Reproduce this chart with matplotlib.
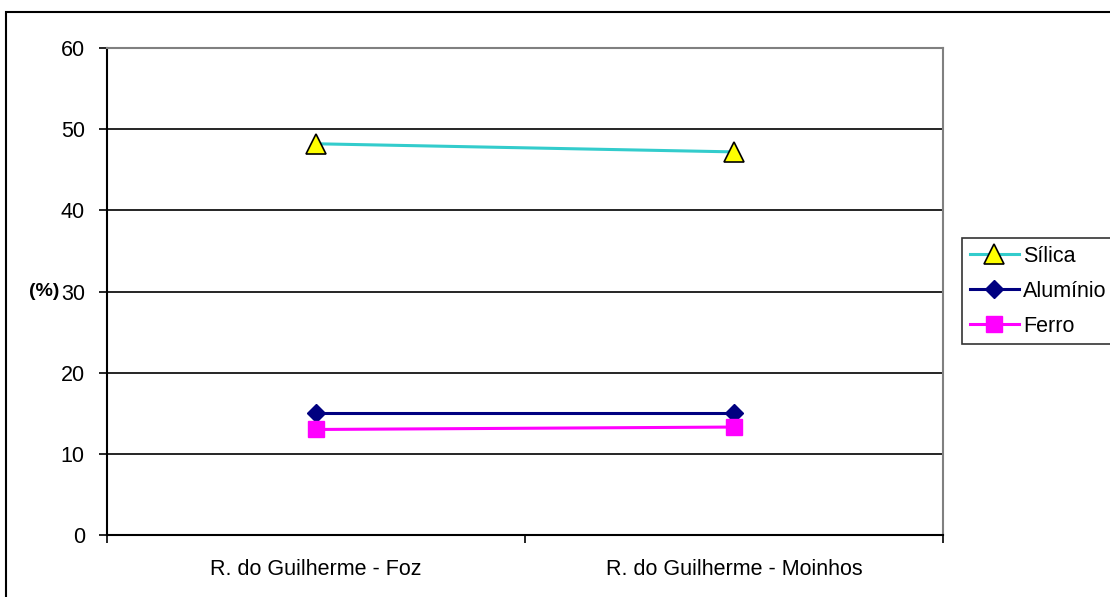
import matplotlib
matplotlib.use("Agg")
import matplotlib.pyplot as plt
from matplotlib.patches import Rectangle

plt.rcParams["font.family"] = ["Liberation Sans", "DejaVu Sans"]

categories = ["R. do Guilherme - Foz", "R. do Guilherme - Moinhos"]
silica = [48.2, 47.2]
aluminio = [15.0, 15.0]
ferro = [13.0, 13.3]
yticks = [0, 10, 20, 30, 40, 50, 60]

FS = 15.5

fig = plt.figure(figsize=(11.10, 5.97), dpi=100)
W, H = 1110, 597
ax = fig.add_axes([107 / W, 1 - 535 / H, (943 - 107) / W, (535 - 48) / H])

# outer chart frame (cut off on the right/bottom like the original)
fig.patches.append(Rectangle((6 / W, -0.05), 1.2, 1 - 12 / H + 0.05,
                             transform=fig.transFigure, fill=False,
                             edgecolor="black", linewidth=1.5, zorder=0))

x = list(range(len(categories)))
ax.plot(x, silica, color="#33CCCC", linewidth=2.2, marker="^", markersize=14,
        markerfacecolor="#FFFF00", markeredgecolor="black", markeredgewidth=1.2,
        label="Sílica", zorder=3)
ax.plot(x, aluminio, color="#000080", linewidth=2.2, marker="D", markersize=9.5,
        markerfacecolor="#000080", markeredgecolor="#000080",
        label="Alumínio", zorder=3)
ax.plot(x, ferro, color="#FF00FF", linewidth=2.2, marker="s", markersize=11.5,
        markerfacecolor="#FF00FF", markeredgecolor="#FF00FF",
        label="Ferro", zorder=3)

ax.set_xlim(-0.5, 1.5)
ax.set_ylim(0, 60)
ax.set_yticks(yticks)
ax.set_xticks([-0.5, 0.5, 1.5])
ax.set_xticklabels([])
ax.set_xticks(x, minor=True)
ax.set_xticklabels(categories, minor=True)
ax.tick_params(axis="x", which="minor", length=0, pad=17, labelsize=FS)
ax.tick_params(axis="x", which="major", length=6, width=1.2, direction="out")
ax.tick_params(axis="y", length=6, width=1.2, direction="out", pad=10, labelsize=FS)

for v in yticks[1:-1]:
    ax.axhline(v, color="black", linewidth=1.2, zorder=1)

for side in ("left", "bottom"):
    ax.spines[side].set_color("black")
    ax.spines[side].set_linewidth(1.5)
for side in ("top", "right"):
    ax.spines[side].set_color("#808080")
    ax.spines[side].set_linewidth(1.5)

fig.text(59 / W, 1 - 291 / H, "(%)", fontweight="bold", fontsize=14,
         ha="right", va="center")

leg = fig.legend(loc="upper left", bbox_to_anchor=(962 / W, 1 - 238 / H),
                 frameon=True, fancybox=False, edgecolor="black",
                 fontsize=FS, handlelength=2.3, handletextpad=0.2,
                 borderpad=0.35, labelspacing=0.65, borderaxespad=0)
leg.get_frame().set_linewidth(1.2)

fig.savefig("out.png", dpi=100)
